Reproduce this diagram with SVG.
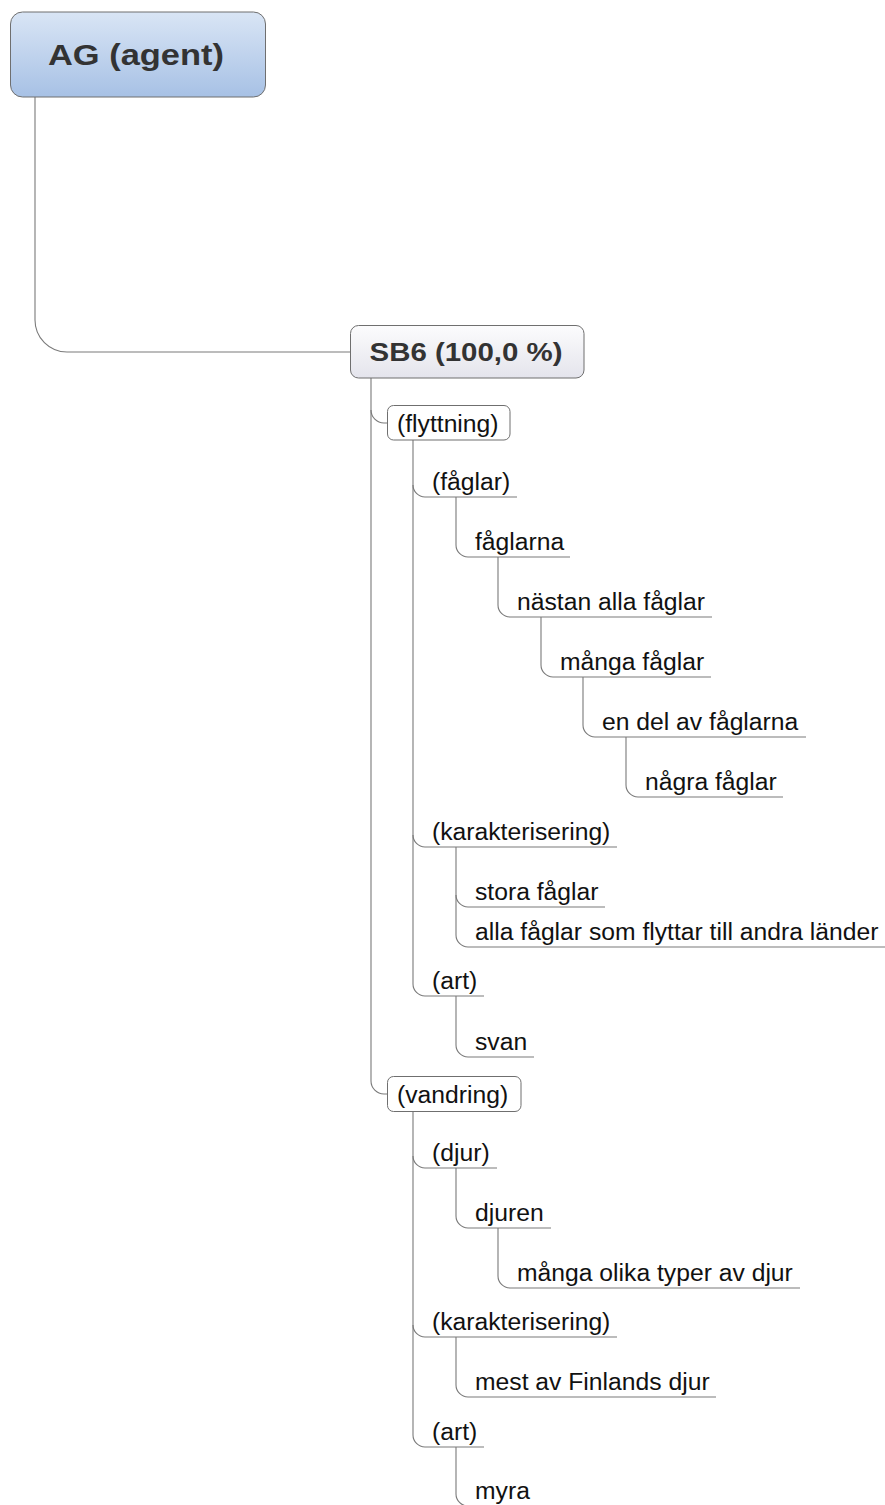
<svg xmlns="http://www.w3.org/2000/svg" width="885" height="1505" viewBox="0 0 885 1505">
  <style>
    .lbl { font-family: "Liberation Sans", Arial, sans-serif; font-size: 24.7px; fill: #111; }
    .big { font-family: "Liberation Sans", Arial, sans-serif; font-weight: bold; fill: #333; text-anchor: middle; }
    .wire { fill: none; stroke: #7a7a7a; stroke-width: 1.1; }
    .box { stroke: #6f6f6f; stroke-width: 1; }
  </style>
  <defs>
    <linearGradient id="gAgent" x1="0" y1="0" x2="0" y2="1">
      <stop offset="0" stop-color="#d9e5f5"/>
      <stop offset="1" stop-color="#a7c1e5"/>
    </linearGradient>
    <linearGradient id="gRole" x1="0" y1="0" x2="0" y2="1">
      <stop offset="0" stop-color="#fcfcfd"/>
      <stop offset="1" stop-color="#e4e4ec"/>
    </linearGradient>
  </defs>
  <rect width="885" height="1505" fill="#ffffff"/>

  <!-- connectors -->
  <g id="connectors">
    <!-- AG to SB6 -->
    <path class="wire" d="M35,97 V320 A32,32 0 0 0 67,352 H350"/>
    <!-- SB6 trunk -->
    <path class="wire" d="M371,378 V410 A13,13 0 0 0 384,423 H387.5"/>
    <path class="wire" d="M371,410 V1081 A13,13 0 0 0 384,1094 H387.5"/>
    <!-- (flyttning) branch -->
    <path class="wire" d="M413,440 V485 A12,12 0 0 0 425,497 H517"/>
    <path class="wire" d="M413,485 V835 A12,12 0 0 0 425,847 H617"/>
    <path class="wire" d="M413,835 V984 A12,12 0 0 0 425,996 H484"/>
    <path class="wire" d="M456,497 V545 A12,12 0 0 0 468,557 H570"/>
    <path class="wire" d="M498,557 V605 A12,12 0 0 0 510,617 H712"/>
    <path class="wire" d="M541,617 V665 A12,12 0 0 0 553,677 H711"/>
    <path class="wire" d="M583,677 V725 A12,12 0 0 0 595,737 H806"/>
    <path class="wire" d="M626,737 V785 A12,12 0 0 0 638,797 H783"/>
    <path class="wire" d="M456,847 V895 A12,12 0 0 0 468,907 H605"/>
    <path class="wire" d="M456,895 V935 A12,12 0 0 0 468,947 H885"/>
    <path class="wire" d="M456,996 V1045 A12,12 0 0 0 468,1057 H534"/>
    <!-- (vandring) branch -->
    <path class="wire" d="M413,1111.5 V1156 A12,12 0 0 0 425,1168 H497"/>
    <path class="wire" d="M413,1156 V1325 A12,12 0 0 0 425,1337 H617"/>
    <path class="wire" d="M413,1325 V1435 A12,12 0 0 0 425,1447 H484"/>
    <path class="wire" d="M456,1168 V1216 A12,12 0 0 0 468,1228 H551"/>
    <path class="wire" d="M498,1228 V1276 A12,12 0 0 0 510,1288 H800"/>
    <path class="wire" d="M456,1337 V1385 A12,12 0 0 0 468,1397 H716"/>
    <path class="wire" d="M456,1447 V1494 A12,12 0 0 0 468,1506 H537"/>
  </g>

  <g id="n-agent">
    <rect class="box" x="10.5" y="12" width="255" height="85" rx="12" fill="url(#gAgent)" stroke="#6d7a8c"/>
    <text class="big" x="136" y="65" font-size="29" textLength="176" lengthAdjust="spacingAndGlyphs">AG (agent)</text>
  </g>

  <g id="n-sb6">
    <rect class="box" x="350.5" y="325.5" width="233.5" height="52.5" rx="8" fill="url(#gRole)"/>
    <text class="big" x="466" y="360.5" font-size="25.5" textLength="193" lengthAdjust="spacingAndGlyphs">SB6 (100,0 %)</text>
  </g>

  <g id="n-flyttning">
    <rect class="box" x="387.5" y="405.5" width="122.5" height="34.5" rx="6" fill="#ffffff"/>
    <text class="lbl" x="397" y="431.5">(flyttning)</text>
  </g>
  <g id="n-faglar"><text class="lbl" x="432" y="490">(fåglar)</text></g>
  <g id="n-faglarna"><text class="lbl" x="475" y="550">fåglarna</text></g>
  <g id="n-nastan"><text class="lbl" x="517" y="610">nästan alla fåglar</text></g>
  <g id="n-manga"><text class="lbl" x="560" y="670">många fåglar</text></g>
  <g id="n-endel"><text class="lbl" x="602" y="730">en del av fåglarna</text></g>
  <g id="n-nagra"><text class="lbl" x="645" y="790">några fåglar</text></g>
  <g id="n-karakt1"><text class="lbl" x="432" y="840">(karakterisering)</text></g>
  <g id="n-stora"><text class="lbl" x="475" y="900">stora fåglar</text></g>
  <g id="n-alla"><text class="lbl" x="475" y="940">alla fåglar som flyttar till andra länder</text></g>
  <g id="n-art1"><text class="lbl" x="432" y="989">(art)</text></g>
  <g id="n-svan"><text class="lbl" x="475" y="1050">svan</text></g>

  <g id="n-vandring">
    <rect class="box" x="387.5" y="1076.5" width="133.5" height="35" rx="6" fill="#ffffff"/>
    <text class="lbl" x="397" y="1102.5">(vandring)</text>
  </g>
  <g id="n-djur"><text class="lbl" x="432" y="1161">(djur)</text></g>
  <g id="n-djuren"><text class="lbl" x="475" y="1221">djuren</text></g>
  <g id="n-olika"><text class="lbl" x="517" y="1281">många olika typer av djur</text></g>
  <g id="n-karakt2"><text class="lbl" x="432" y="1330">(karakterisering)</text></g>
  <g id="n-mest"><text class="lbl" x="475" y="1390">mest av Finlands djur</text></g>
  <g id="n-art2"><text class="lbl" x="432" y="1440">(art)</text></g>
  <g id="n-myra"><text class="lbl" x="475" y="1499">myra</text></g>
</svg>
